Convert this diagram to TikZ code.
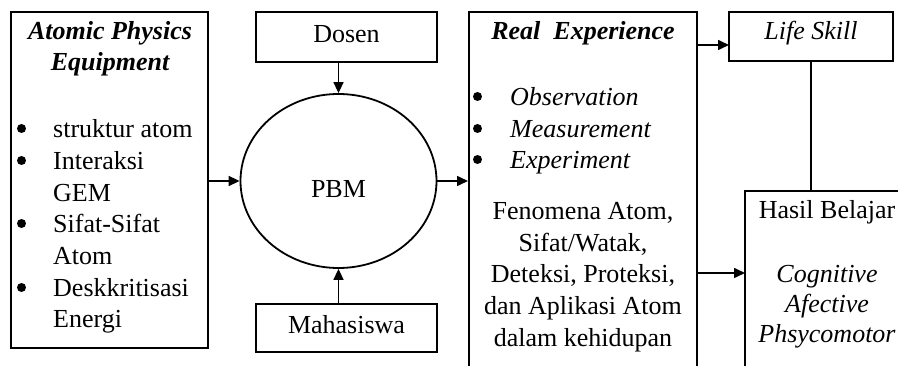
\documentclass[tikz,border=0pt]{standalone}
\usepackage{fontspec}
\setmainfont{Liberation Serif}
\usetikzlibrary{arrows.meta,shapes.geometric}
\begin{document}
\begin{tikzpicture}[x=1pt,y=-1pt,
  box/.style={draw,line width=2pt,rectangle,inner sep=0pt},
  conn/.style={line width=1.6pt,-{Triangle[length=11pt,width=10pt]}},
  plainline/.style={line width=1.6pt},
  txt/.style={font=\fontsize{26}{31.7}\selectfont,inner sep=0pt,anchor=base},
  txtl/.style={txt,anchor=base west},
  bul/.style={circle,fill,inner sep=0pt,minimum size=9pt},
  bti/.style={txt,font=\fontsize{26}{31.7}\selectfont\bfseries\itshape},
  iti/.style={txtl,font=\fontsize{26}{31.7}\selectfont\itshape},
  itc/.style={txt,font=\fontsize{26}{31.7}\selectfont\itshape}]
\useasboundingbox (0,0) rectangle (898,366);
\clip (0,0) rectangle (898,366);

% boxes
\node[box,minimum width=197pt,minimum height=336pt] (left) at (109.5,180) {};
\node[box,minimum width=181pt,minimum height=50pt] (dosen) at (346.5,37) {};
\node[box,minimum width=181pt,minimum height=48pt] (maha) at (346.5,328) {};
\node[draw,line width=1.8pt,ellipse,minimum width=196pt,minimum height=174pt,inner sep=0pt] (pbm) at (338.5,181) {};
\node[box,minimum width=228pt,minimum height=388pt] (real) at (583,206) {};
\node[box,minimum width=164pt,minimum height=49pt] (life) at (811,36.5) {};
\node[box,minimum width=167pt,minimum height=209pt] (hasil) at (828.5,295.5) {};

% left texts
\node[bti] (lt1) at (110,40) {Atomic Physics};
\node[bti] (lt2) at (110,71) {Equipment};
\node[bul] (lb1) at (21.5,128.5) {};
\node[txtl] (li1) at (53,138) {struktur atom};
\node[bul] (lb2) at (21.5,160.5) {};
\node[txtl] (li2) at (53,170) {Interaksi};
\node[txtl] (li3) at (53,201.5) {GEM};
\node[bul] (lb3) at (21.5,223.5) {};
\node[txtl] (li4) at (53,233) {Sifat-Sifat};
\node[txtl] (li5) at (53,265) {Atom};
\node[bul] (lb4) at (21.5,287.5) {};
\node[txtl] (li6) at (53,297) {Deskkritisasi};
\node[txtl] (li7) at (53,328) {Energi};

% middle texts
\node[txt] (dt) at (346.5,43) {Dosen};
\node[txt] (mt) at (346.5,334) {Mahasiswa};
\node[txt] (pt) at (338.5,198) {PBM};

% real experience texts
\node[bti] (rt) at (583,40) {Real~ Experience};
\node[bul] (rb1) at (477.5,96.5) {};
\node[iti] (ri1) at (510,106) {Observation};
\node[bul] (rb2) at (477.5,128.5) {};
\node[iti] (ri2) at (510,138) {Measurement};
\node[bul] (rb3) at (477.5,159.5) {};
\node[iti] (ri3) at (510,169) {Experiment};
\node[txt] (rf1) at (583,220) {Fenomena Atom,};
\node[txt] (rf2) at (583,252) {Sifat/Watak,};
\node[txt] (rf3) at (583,283) {Deteksi, Proteksi,};
\node[txt] (rf4) at (583,315) {dan Aplikasi Atom};
\node[txt] (rf5) at (583,347) {dalam kehidupan};

% right texts
\node[itc] (lst) at (811,40) {Life Skill};
\node[txt] (ht) at (827,219) {Hasil Belajar};
\node[itc] (h1) at (827,283) {Cognitive};
\node[itc] (h2) at (827,313) {Afective};
\node[itc] (h3) at (827,343) {Phsycomotor};

% connectors
\coordinate (a1) at (729,45);
\coordinate (a2) at (745,273);
\draw[conn] (left.east |- pbm.west) -- (pbm.west);
\draw[conn] (pbm.east) -- (pbm.east -| real.west);
\draw[conn] (pbm.north |- dosen.south) -- (pbm.north);
\draw[conn] (pbm.south |- maha.north) -- (pbm.south);
\draw[conn] (real.east |- a1) -- (a1);
\draw[conn] (real.east |- a2) -- (a2);
\draw[plainline] (life.south) -- (life.south |- hasil.north);
\end{tikzpicture}
\end{document}
